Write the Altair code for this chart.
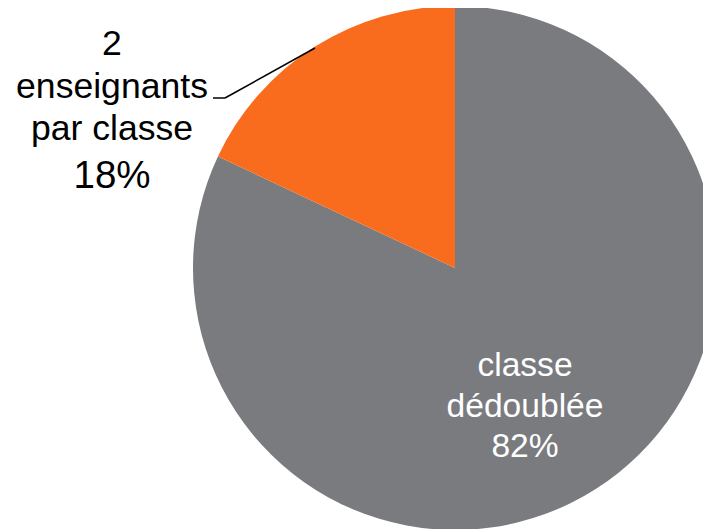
import altair as alt
import pandas as pd

categories = ["classe dédoublée", "2 enseignants par classe"]
values = [82, 18]
colors = ["#7a7b7f", "#f96c1d"]

df = pd.DataFrame({"cat": categories, "val": values, "ord": [0, 1]})

W, H = 695, 521
CX, CY, R = 447, 260, 262

pie = alt.Chart(df).mark_arc(outerRadius=R, clip=True).encode(
    theta=alt.Theta("val:Q", stack=True),
    order=alt.Order("ord:Q"),
    color=alt.Color("cat:N", scale=alt.Scale(domain=categories, range=colors), legend=None),
    x=alt.value(CX),
    y=alt.value(CY),
)

def line_text(txt, x, y, size, color, font="Liberation Sans"):
    return alt.Chart(df).transform_filter("datum.ord == 0").mark_text(
        font=font, fontSize=size, color=color, align="center", baseline="alphabetic"
    ).encode(x=alt.value(x), y=alt.value(y), text=alt.value(txt))

layers = [pie]
# right label (inside grey slice)
right_lines = ["classe", "dédoublée", f"{values[0]}%"]
for t, yy in zip(right_lines, [368, 409, 449]):
    layers.append(line_text(t, 517, yy, 33.6, "white"))
# left label (outside orange slice)
left_lines = ["2", "enseignants", "par classe"]
for t, yy in zip(left_lines, [47, 90, 132]):
    layers.append(line_text(t, 104, yy, 35.6, "black"))
layers.append(line_text(f"{values[1]}%", 104, 180, 38.5, "black"))

# leader line
layers.append(alt.Chart(df).transform_filter("datum.ord == 0").mark_rule(color="black", strokeWidth=1.5).encode(
    x=alt.value(205), x2=alt.value(217), y=alt.value(90), y2=alt.value(90)))
layers.append(alt.Chart(df).transform_filter("datum.ord == 0").mark_rule(color="black", strokeWidth=1.5).encode(
    x=alt.value(217), x2=alt.value(307), y=alt.value(90), y2=alt.value(40)))

chart = alt.layer(*layers).properties(
    width=W, height=H,
    autosize=alt.AutoSizeParams(type="none"),
    padding=0,
).configure_view(stroke=None)

chart.save("out.html", embed_options={"renderer": "svg", "actions": False})
